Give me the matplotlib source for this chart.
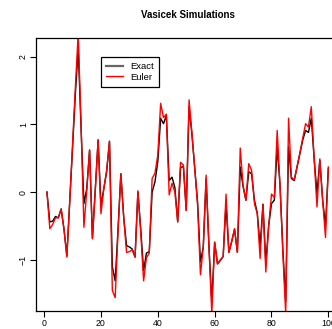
import matplotlib
matplotlib.use("Agg")
import matplotlib.pyplot as plt
import numpy as np
from matplotlib.lines import Line2D

plt.rcParams["font.family"] = ["Liberation Sans", "DejaVu Sans"]

# one path of the Vasicek process, exact discretisation vs Euler scheme
steps = np.arange(1, 101)
exact = [
    0.00, -0.44, -0.43, -0.36, -0.38, -0.25, -0.55, -0.94, -0.15, 0.65,
    1.45, 2.12, 0.95, -0.17, 0.05, 0.62, -0.68, 0.04, 0.77, -0.20,
    0.05, 0.30, 0.75, -1.10, -1.31, -0.55, 0.27, -0.37, -0.79, -0.81,
    -0.84, -0.96, 0.00, -0.55, -1.16, -0.90, -0.88, 0.00, 0.15, 0.45,
    1.09, 1.01, 1.13, 0.17, 0.22, 0.07, -0.44, 0.36, 0.38, -0.27,
    1.26, 0.85, 0.35, -0.15, -1.03, -0.81, 0.20, -0.81, -1.62, -0.74,
    -1.06, -1.01, -0.95, -0.17, -0.89, -0.73, -0.55, -0.89, 0.37, 0.08,
    -0.12, 0.30, 0.27, -0.12, -0.31, -0.80, -0.18, -1.05, -0.50, -0.17,
    -0.12, 0.67, 0.10, -0.85, -1.62, 0.67, 0.20, 0.17, 0.37, 0.57,
    0.77, 0.91, 0.88, 1.09, 0.50, -0.02, 0.47, -0.12, -0.50, 0.35,
]
euler = [
    0.00, -0.54, -0.48, -0.38, -0.38, -0.25, -0.55, -0.96, -0.15, 0.70,
    1.55, 2.35, 1.00, -0.52, 0.02, 0.62, -0.69, 0.02, 0.77, -0.32,
    0.05, 0.32, 0.75, -1.45, -1.56, -0.60, 0.27, -0.37, -0.89, -0.88,
    -0.85, -0.96, 0.02, -0.60, -1.31, -0.97, -0.90, 0.20, 0.28, 0.55,
    1.31, 1.10, 1.15, -0.04, 0.13, 0.00, -0.44, 0.44, 0.40, -0.27,
    1.36, 0.88, 0.35, -0.20, -1.22, -0.81, 0.25, -0.81, -1.80, -0.74,
    -1.06, -1.00, -0.95, -0.03, -0.89, -0.73, -0.54, -0.89, 0.65, 0.10,
    -0.12, 0.42, 0.32, -0.17, -0.32, -0.98, -0.18, -1.18, -0.50, -0.03,
    -0.08, 0.91, 0.10, -0.90, -1.80, 1.09, 0.22, 0.18, 0.38, 0.58,
    0.80, 1.01, 0.96, 1.26, 0.50, -0.22, 0.49, -0.12, -0.67, 0.37,
]
xticks = [0, 20, 40, 60, 80, 100]
yticks = [-1, 0, 1, 2]
series_names = ["Exact", "Euler"]

W, H = 332, 329
fig = plt.figure(figsize=(W / 100, H / 100), dpi=100)
# plot region runs past the right edge of the figure
ax = fig.add_axes([35.7 / W, 1 - 311.3 / H, (339.6 - 35.7) / W, (311.3 - 38.3) / H])

ax.plot(steps, exact, color="black", lw=1.0)
ax.plot(steps, euler, color="red", lw=1.0)

ax.set_xlim(-2.96, 103.96)
ax.set_ylim(-1.76, 2.27)
ax.set_xticks(xticks)
ax.set_yticks(yticks)
ax.set_xticklabels([str(v) for v in xticks], fontsize=6.3)
ax.set_yticklabels([str(v).replace("-", "\u2212") for v in yticks],
                   fontsize=6.3, rotation=90, va="center")
ax.tick_params(length=4, width=0.8, pad=1.5)
for sp in ax.spines.values():
    sp.set_linewidth(0.9)

fig.text(188 / W, 1 - 15 / H, "Vasicek Simulations", ha="center", va="center",
         fontsize=7, fontweight="bold")

handles = [Line2D([], [], color="0.4", lw=1.6), Line2D([], [], color="red", lw=1.0)]
leg = ax.legend(handles, series_names, loc="upper left",
                bbox_to_anchor=(101 / W, 1 - 56.7 / H), bbox_transform=fig.transFigure,
                fontsize=6.8, frameon=True, fancybox=False, framealpha=1,
                edgecolor="black", handlelength=1.75, handletextpad=0.8,
                labelspacing=0.2, borderpad=0.55, borderaxespad=0)
leg.get_frame().set_linewidth(0.9)

fig.savefig("out.png", dpi=100)
